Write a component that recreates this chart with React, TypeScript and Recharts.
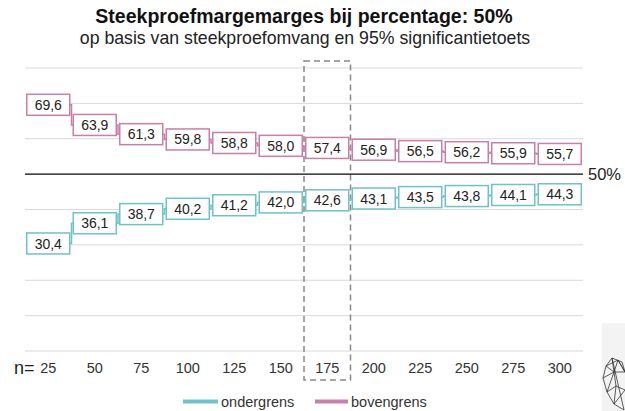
import React from 'react';
import {
  ComposedChart,
  Line,
  XAxis,
  YAxis,
  CartesianGrid,
  ReferenceLine,
  ReferenceArea,
} from 'recharts';

document.body.style.margin = '0';

const sampleSizes = ['25', '50', '75', '100', '125', '150', '175', '200', '225', '250', '275', '300'];
const ondergrens = [30.4, 36.1, 38.7, 40.2, 41.2, 42.0, 42.6, 43.1, 43.5, 43.8, 44.1, 44.3];
const bovengrens = [69.6, 63.9, 61.3, 59.8, 58.8, 58.0, 57.4, 56.9, 56.5, 56.2, 55.9, 55.7];
const gridTicks = [0, 10, 20, 30, 40, 50, 60, 70, 80];
const highlighted = '175';

const TEAL = '#6cc4c7';
const PINK = '#c97fa6';
const FONT = '"Liberation Sans", Arial, sans-serif';

const data = sampleSizes.map((n, i) => ({
  n,
  ondergrens: ondergrens[i],
  bovengrens: bovengrens[i],
}));

const fmt = (v: number) => v.toFixed(1).replace('.', ',');

const boxDot = (color: string, key: string) => (props: any) => {
  const { cx, cy, payload, index } = props;
  if (cx == null || cy == null) return <g key={index} />;
  return (
    <g key={`${key}-${index}`}>
      <rect
        x={cx - 21.5}
        y={cy - 10.5}
        width={43}
        height={21}
        fill="#fff"
        stroke={color}
        strokeWidth={1.5}
      />
      <text
        x={cx}
        y={cy}
        dy="0.36em"
        textAnchor="middle"
        fontSize={14}
        fontFamily={FONT}
        fill="#222"
      >
        {fmt(payload[key])}
      </text>
    </g>
  );
};

export default function App() {
  return (
    <div style={{ position: 'relative', width: 625, height: 411, fontFamily: FONT }}>
      <ComposedChart
        width={625}
        height={411}
        data={data}
        margin={{ top: 68, right: 42, bottom: 30, left: 25 }}
      >
        <CartesianGrid vertical={false} stroke="#d9d9d9" />
        <XAxis
          dataKey="n"
          scale="band"
          axisLine={false}
          tickLine={false}
          interval={0}
          height={30}
          tickMargin={6}
          tick={{ fontSize: 14.5, fill: '#333', fontFamily: FONT }}
        />
        <YAxis hide domain={[0, 80]} ticks={gridTicks} />
        <ReferenceLine
          y={50}
          stroke="#111"
          strokeWidth={1.2}
          label={{ value: '50%', position: 'right', fill: '#222', fontSize: 16.5, fontFamily: FONT }}
        />
        <ReferenceArea
          x1={highlighted}
          x2={highlighted}
          y1={-8.2}
          y2={82}
          ifOverflow="visible"
          fill="none"
          stroke="#888"
          strokeWidth={1.5}
          strokeDasharray="6 4"
        />
        <Line
          dataKey="ondergrens"
          type="step"
          stroke={TEAL}
          strokeWidth={1.5}
          dot={boxDot(TEAL, 'ondergrens')}
          activeDot={false}
          isAnimationActive={false}
        />
        <Line
          dataKey="bovengrens"
          type="step"
          stroke={PINK}
          strokeWidth={1.5}
          dot={boxDot(PINK, 'bovengrens')}
          activeDot={false}
          isAnimationActive={false}
        />
      </ComposedChart>
      <svg
        width={625}
        height={411}
        style={{ position: 'absolute', left: 0, top: 0, pointerEvents: 'none' }}
      >
        <text x={304} y={23} textAnchor="middle" fontSize={19.5} fontWeight="bold" fill="#111" fontFamily={FONT}>
          Steekproefmargemarges bij percentage: 50%
        </text>
        <text x={305} y={44} textAnchor="middle" fontSize={17.7} fill="#222" fontFamily={FONT}>
          op basis van steekproefomvang en 95% significantietoets
        </text>
        <text x={14} y={374} fontSize={18} fill="#222" fontFamily={FONT}>
          n=
        </text>
        <line x1={183} x2={218} y1={401.5} y2={401.5} stroke={TEAL} strokeWidth={4} />
        <text x={221} y={406.5} fontSize={14.5} fill="#333" fontFamily={FONT}>
          ondergrens
        </text>
        <line x1={315} x2={348} y1={401.5} y2={401.5} stroke={PINK} strokeWidth={4} />
        <text x={351} y={406.5} fontSize={14.5} fill="#333" fontFamily={FONT}>
          bovengrens
        </text>
        <rect x={602} y={323} width={23} height={88} fill="#f3f3f3" />
        <g stroke="#333" strokeWidth={0.8} fill="none">
          <polygon points="612,358 622,362 625,372 618,360 606,366 603,378 607,392 614,404 624,410" />
          <polyline points="606,366 614,372 618,360 625,372 614,372 607,392 616,386 625,390 614,404 616,386 614,372" />
          <polyline points="603,378 614,372 612,358 606,366" />
        </g>
      </svg>
    </div>
  );
}
